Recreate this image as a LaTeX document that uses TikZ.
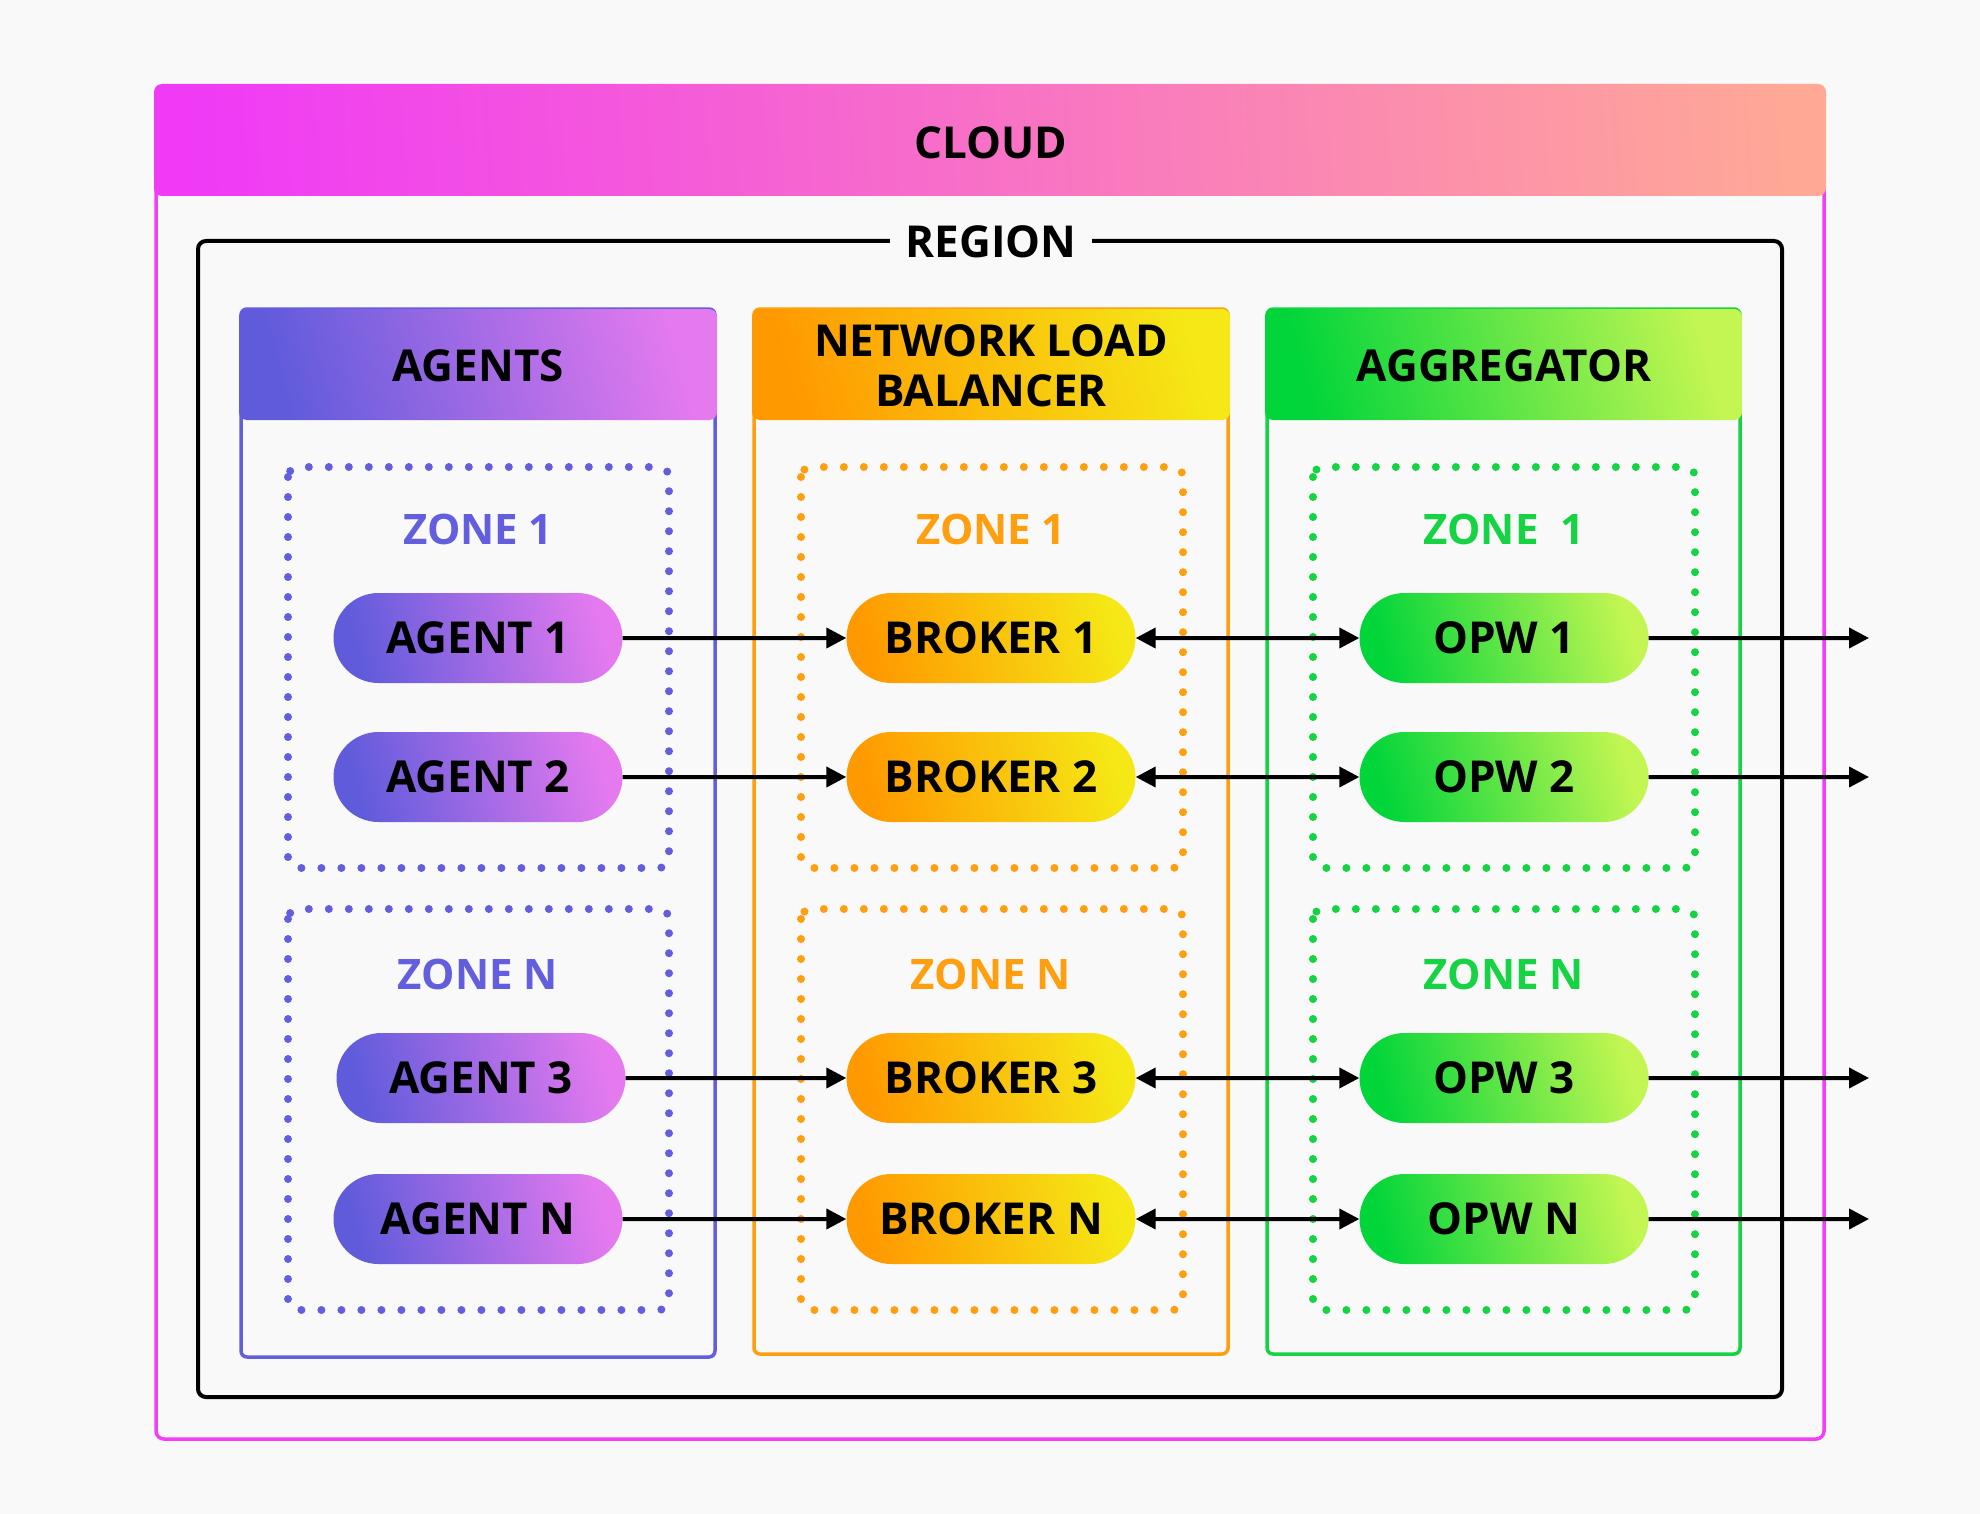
\documentclass[tikz,border=0pt]{standalone}
\usepackage{fontspec}
\setmainfont{Open Sans}
\usetikzlibrary{arrows.meta,shapes.misc}

% colours
\definecolor{bg}{RGB}{249,249,249}
\definecolor{cloudA}{RGB}{240,58,246}
\definecolor{cloudB}{RGB}{255,168,150}
\definecolor{cloudline}{RGB}{242,62,245}
\definecolor{agentA}{RGB}{95,91,219}
\definecolor{agentB}{RGB}{229,122,239}
\definecolor{agentline}{RGB}{98,94,222}
\definecolor{nlbA}{RGB}{255,153,0}
\definecolor{nlbB}{RGB}{245,232,22}
\definecolor{nlbline}{RGB}{255,158,15}
\definecolor{aggA}{RGB}{0,213,58}
\definecolor{aggB}{RGB}{195,246,82}
\definecolor{aggline}{RGB}{22,211,67}

\tikzset{
  big/.style={font=\fontsize{44}{50}\selectfont\bfseries},
  pill/.style 2 args={rounded rectangle, minimum width=289pt, minimum height=90pt,
    inner sep=0pt, left color=#1, right color=#2, shading angle=105, big},
  zone/.style={draw=#1, line width=8pt, line cap=round,
    dash pattern=on 0pt off 20pt, rounded corners=10pt},
  zonelabel/.style={text=#1, font=\fontsize{42}{50}\selectfont\bfseries},
  colbox/.style={draw=#1, line width=3.5pt, rounded corners=6pt},
  flow/.style={line width=4pt, -{Triangle[length=20pt,width=20pt]}},
  twoway/.style={line width=4pt,
    {Triangle[length=20pt,width=20pt]}-{Triangle[length=20pt,width=20pt]}},
}

\begin{document}
\begin{tikzpicture}[x=1pt, y=-1pt]
  \def\Xa{478};  % agents
  \def\Xb{991};  % load balancer
  \def\Xc{1504}; % aggregator
  \def\Ya{638};
  \def\Yb{777};
  \def\Yc{1078};
  \def\Yd{1219};

  % page
  \fill[bg] (0,0) rectangle (1980,1514);
  \useasboundingbox (0,0) rectangle (1980,1514);

  % cloud
  \draw[cloudline, line width=3.5pt, rounded corners=8pt] (156,86) rectangle (1824,1439);
  \shade[left color=cloudA, right color=cloudB, shading angle=93, rounded corners=8pt]
    (154,84) rectangle (1826,196);
  \node[big] (cloud) at (991,143) {CLOUD};

  % region
  \draw[line width=4pt, rounded corners=8pt] (198,241) rectangle (1782,1397);
  \node[big, fill=bg, inner xsep=16pt] (region) at (991,242) {REGION};

  % columns
  \draw[colbox=agentline] (241,309) rectangle (715,1357);
  \shade[left color=agentA, right color=agentB, shading angle=105, rounded corners=8pt]
    (239,309) rectangle (717,420);
  \node[big] (agents) at (\Xa,366) {AGENTS};

  \draw[colbox=nlbline] (754,309) rectangle (1228,1354);
  \shade[left color=nlbA, right color=nlbB, shading angle=105, rounded corners=8pt]
    (752,309) rectangle (1230,420);
  \node[big, align=center] (nlb) at (\Xb,366) {NETWORK LOAD\\BALANCER};

  \draw[colbox=aggline] (1267,309) rectangle (1740,1354);
  \shade[left color=aggA, right color=aggB, shading angle=105, rounded corners=8pt]
    (1265,309) rectangle (1742,420);
  \node[big] (aggregator) at (\Xc,366) {AGGREGATOR};

  % zones
  \draw[zone=agentline] (288,467) rectangle (669,868);
  \draw[zone=agentline] (288,909) rectangle (669,1310);
  \draw[zone=nlbline] (801,467) rectangle (1183,868);
  \draw[zone=nlbline] (801,909) rectangle (1183,1310);
  \draw[zone=aggline] (1313,467) rectangle (1695,868);
  \draw[zone=aggline] (1313,909) rectangle (1695,1310);

  \node[zonelabel=agentline] (za1) at (\Xa,529) {ZONE 1};
  \node[zonelabel=agentline] (zan) at (\Xa,974) {ZONE N};
  \node[zonelabel=nlbline] (zb1) at (\Xb,529) {ZONE 1};
  \node[zonelabel=nlbline] (zbn) at (\Xb,974) {ZONE N};
  \node[zonelabel=aggline] (zc1) at (\Xc,529) {ZONE\ \ 1};
  \node[zonelabel=aggline] (zcn) at (\Xc,974) {ZONE N};

  % agents
  \node[pill={agentA}{agentB}] (a1) at (\Xa,\Ya) {AGENT 1};
  \node[pill={agentA}{agentB}] (a2) at (\Xa,\Yb) {AGENT 2};
  \node[pill={agentA}{agentB}] (a3) at (\Xa+3,\Yc) {AGENT 3};
  \node[pill={agentA}{agentB}] (an) at (\Xa,\Yd) {AGENT N};

  % brokers
  \node[pill={nlbA}{nlbB}] (b1) at (\Xb,\Ya) {BROKER 1};
  \node[pill={nlbA}{nlbB}] (b2) at (\Xb,\Yb) {BROKER 2};
  \node[pill={nlbA}{nlbB}] (b3) at (\Xb,\Yc) {BROKER 3};
  \node[pill={nlbA}{nlbB}] (bn) at (\Xb,\Yd) {BROKER N};

  % workers
  \node[pill={aggA}{aggB}] (o1) at (\Xc,\Ya) {OPW 1};
  \node[pill={aggA}{aggB}] (o2) at (\Xc,\Yb) {OPW 2};
  \node[pill={aggA}{aggB}] (o3) at (\Xc,\Yc) {OPW 3};
  \node[pill={aggA}{aggB}] (on) at (\Xc,\Yd) {OPW N};

  % outputs
  \coordinate (out1) at (1869,\Ya);
  \coordinate (out2) at (1869,\Yb);
  \coordinate (out3) at (1869,\Yc);
  \coordinate (outn) at (1869,\Yd);

  % links
  \draw[flow] (a1) -- (b1);
  \draw[flow] (a2) -- (b2);
  \draw[flow] (a3) -- (b3);
  \draw[flow] (an) -- (bn);

  \draw[twoway] (b1) -- (o1);
  \draw[twoway] (b2) -- (o2);
  \draw[twoway] (b3) -- (o3);
  \draw[twoway] (bn) -- (on);

  \draw[flow] (o1) -- (out1);
  \draw[flow] (o2) -- (out2);
  \draw[flow] (o3) -- (out3);
  \draw[flow] (on) -- (outn);
\end{tikzpicture}
\end{document}
